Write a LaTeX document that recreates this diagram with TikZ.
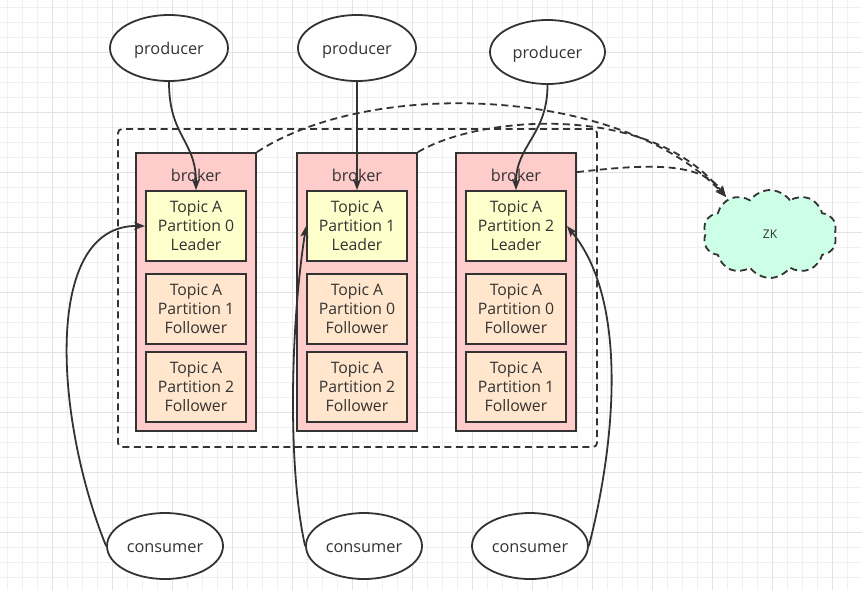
\documentclass[tikz,border=0pt]{standalone}
\usepackage{fontspec}
\setmainfont{Open Sans}
\usetikzlibrary{shapes.geometric,shapes.symbols,arrows.meta}
\definecolor{ink}{HTML}{333333}
\definecolor{gridminor}{HTML}{F0F0F0}
\definecolor{gridmajor}{HTML}{E2E2E2}
\definecolor{brokerfill}{HTML}{FFCCCC}
\definecolor{leaderfill}{HTML}{FFFFCC}
\definecolor{followerfill}{HTML}{FFE6CC}
\definecolor{zkfill}{HTML}{CCFFE6}
\tikzset{
  txt/.style={text=ink, font=\fontsize{15.8}{19}\selectfont},
  bigtxt/.style={text=ink, font=\fontsize{16.3}{19}\selectfont},
  ell/.style={ellipse, draw=ink, line width=1.8pt, fill=white, inner sep=0pt,
    minimum width=118pt, minimum height=66pt, bigtxt,
    text height=13.6pt, text depth=0pt},
  brokerbox/.style={rectangle, draw=ink, line width=1.8pt, fill=brokerfill,
    minimum width=120pt, minimum height=278pt, inner sep=0pt},
  partbox/.style={rectangle, draw=ink, line width=1.8pt, minimum width=100pt,
    minimum height=70pt, inner sep=0pt, align=center, txt},
  leaderbox/.style={partbox, fill=leaderfill},
  followerbox/.style={partbox, fill=followerfill},
  dashline/.style={dash pattern=on 7pt off 4.5pt},
  link/.style={draw=ink, line width=1.8pt,
    -{Stealth[length=11pt,width=8pt,inset=2.5pt]}},
  zklink/.style={link, dashline},
}
\begin{document}
\begin{tikzpicture}[x=1pt,y=-1pt]
\useasboundingbox (0,0) rectangle (862,590);
\fill[white] (0,0) rectangle (862,590);
% background grid
\foreach \g in {7,22,...,862} {
  \draw[gridminor, line width=1pt] (\g,0) -- (\g,590);
}
\foreach \g in {7,22,...,590} {
  \draw[gridminor, line width=1pt] (0,\g) -- (862,\g);
}
\foreach \g in {52,112,...,862} {
  \draw[gridmajor, line width=1pt] (\g,0) -- (\g,590);
}
\foreach \g in {52,112,...,590} {
  \draw[gridmajor, line width=1pt] (0,\g) -- (862,\g);
}

% cluster frame
\node[draw=ink, line width=1.8pt, dashline, rounded corners=4pt,
  minimum width=479pt, minimum height=318pt, inner sep=0pt] (cluster) at (357.5,288) {};

% brokers
\node[brokerbox] (br1) at (196,292) {};
\node[brokerbox] (br2) at (357,292) {};
\node[brokerbox] (br3) at (516,292) {};
\node[bigtxt] (bl1) at (196,175) {broker};
\node[bigtxt] (bl2) at (357,175) {broker};
\node[bigtxt] (bl3) at (516,175) {broker};

% partitions
\node[leaderbox]   (b11) at (196,226) {Topic A\\Partition 0\\Leader};
\node[followerbox] (b12) at (196,309) {Topic A\\Partition 1\\Follower};
\node[followerbox] (b13) at (196,387) {Topic A\\Partition 2\\Follower};
\node[leaderbox]   (b21) at (357,226) {Topic A\\Partition 1\\Leader};
\node[followerbox] (b22) at (357,309) {Topic A\\Partition 0\\Follower};
\node[followerbox] (b23) at (357,387) {Topic A\\Partition 2\\Follower};
\node[leaderbox]   (b31) at (516,226) {Topic A\\Partition 2\\Leader};
\node[followerbox] (b32) at (516,309) {Topic A\\Partition 0\\Follower};
\node[followerbox] (b33) at (516,387) {Topic A\\Partition 1\\Follower};

% producers and consumers
\node[ell] (p1) at (169,48) {producer};
\node[ell] (p2) at (357,48) {producer};
\node[ell, minimum width=115pt, minimum height=64pt] (p3) at (547.5,52) {producer};
\node[ell, minimum width=116pt] (c1) at (165,546) {consumer};
\node[ell, minimum width=116pt] (c2) at (364,546) {consumer};
\node[ell, minimum width=116pt] (c3) at (530,546) {consumer};

% zookeeper
\node[cloud, draw=ink, line width=1.8pt, dashline, fill=zkfill, cloud puffs=10,
  cloud puff arc=110, aspect=1.6, minimum width=134pt, minimum height=88pt,
  inner sep=0pt, text=ink, font=\fontsize{12}{14}\selectfont] (zk) at (770,234) {ZK};
\coordinate (zkin) at (726,197);

% producer -> leader
\draw[link] (p1.south) .. controls +(0,55) and +(0,-50) .. (b11.north);
\draw[link] (p2.south) -- (b21.north);
\draw[link] (p3.south) .. controls +(0,50) and +(0,-45) .. (b31.north);

% consumer -> leader
\draw[link] (c1.west) .. controls (55,420) and (42,225) .. (b11.west);
\draw[link] (c2.west) .. controls (288,470) and (290,330) .. (b21.west);
\draw[link] (c3.east) .. controls (616,440) and (628,300) .. (b31.east);

% brokers -> zookeeper
\draw[zklink] (br1.north east) .. controls (370,78) and (620,86) .. (zkin);
\draw[zklink] (br2.north east) .. controls (480,115) and (650,102) .. (zkin);
\draw[zklink] ([yshift=-20pt]br3.north east) .. controls (640,165) and (700,160) .. (zkin);
\end{tikzpicture}
\end{document}
